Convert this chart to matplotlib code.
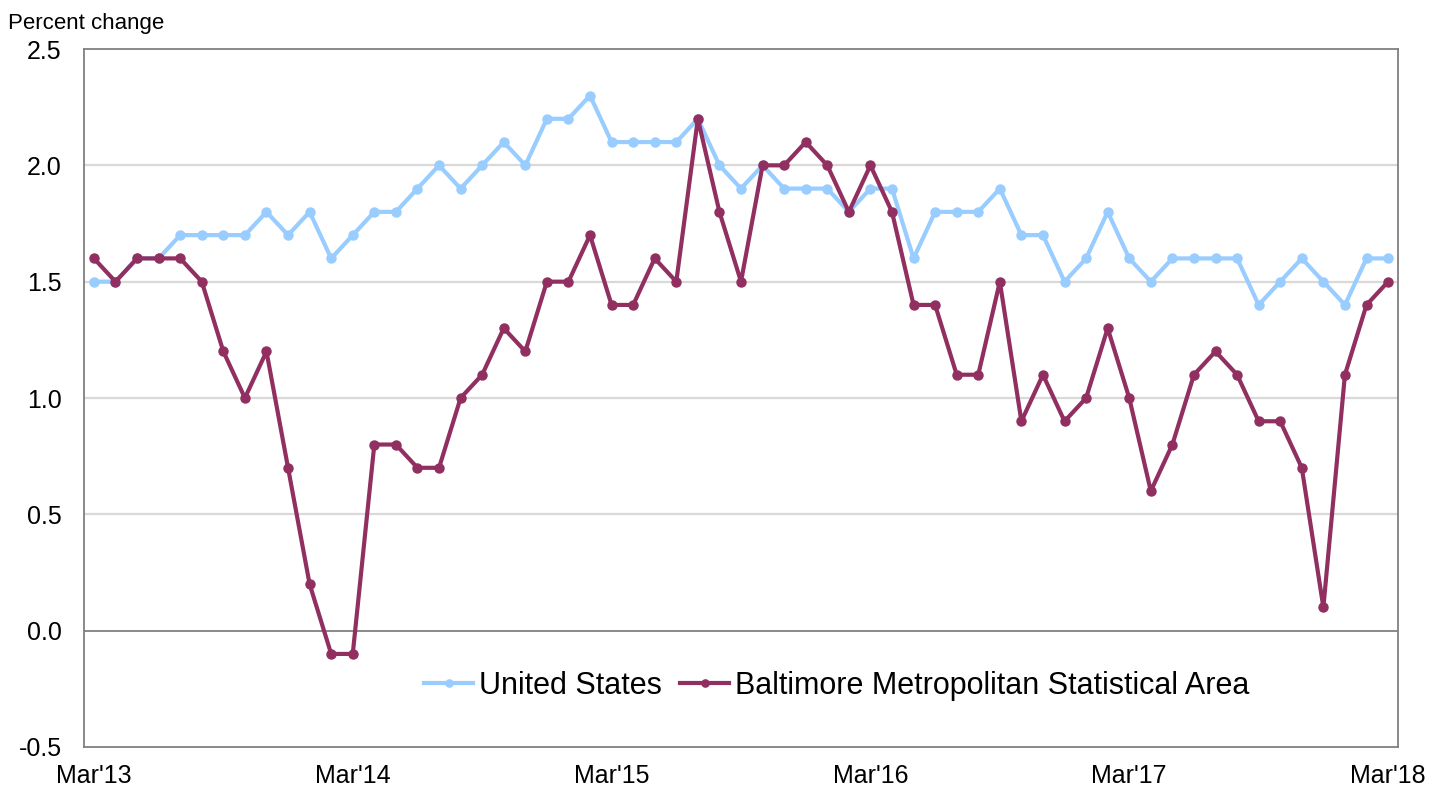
import matplotlib.pyplot as plt
import numpy as np

plt.rcParams['font.family'] = ['Liberation Sans', 'DejaVu Sans']

# monthly, Mar'13 .. Mar'18 (12-month percent change)
months = np.arange(61)
tick_labels = ["Mar'13", "Mar'14", "Mar'15", "Mar'16", "Mar'17", "Mar'18"]

us = [1.5, 1.5, 1.6, 1.6, 1.7, 1.7, 1.7, 1.7, 1.8, 1.7, 1.8, 1.6,
      1.7, 1.8, 1.8, 1.9, 2.0, 1.9, 2.0, 2.1, 2.0, 2.2, 2.2, 2.3,
      2.1, 2.1, 2.1, 2.1, 2.2, 2.0, 1.9, 2.0, 1.9, 1.9, 1.9, 1.8,
      1.9, 1.9, 1.6, 1.8, 1.8, 1.8, 1.9, 1.7, 1.7, 1.5, 1.6, 1.8,
      1.6, 1.5, 1.6, 1.6, 1.6, 1.6, 1.4, 1.5, 1.6, 1.5, 1.4, 1.6,
      1.6]

baltimore = [1.6, 1.5, 1.6, 1.6, 1.6, 1.5, 1.2, 1.0, 1.2, 0.7, 0.2, -0.1,
             -0.1, 0.8, 0.8, 0.7, 0.7, 1.0, 1.1, 1.3, 1.2, 1.5, 1.5, 1.7,
             1.4, 1.4, 1.6, 1.5, 2.2, 1.8, 1.5, 2.0, 2.0, 2.1, 2.0, 1.8,
             2.0, 1.8, 1.4, 1.4, 1.1, 1.1, 1.5, 0.9, 1.1, 0.9, 1.0, 1.3,
             1.0, 0.6, 0.8, 1.1, 1.2, 1.1, 0.9, 0.9, 0.7, 0.1, 1.1, 1.4,
             1.5]

fig = plt.figure(figsize=(14.32, 7.90), dpi=100)
ax = fig.add_axes([84 / 1432, 1 - 747 / 790, (1398 - 84) / 1432, (747 - 49) / 790])

# gridlines
for y in [0.5, 1.0, 1.5, 2.0]:
    ax.axhline(y, color='#d9d9d9', lw=1.6, zorder=0)
ax.axhline(0, color='#808080', lw=1.3, zorder=1)

ax.plot(months, us, color='#99ccff', lw=3, marker='o', ms=6.5,
        label='United States', zorder=2)
ax.plot(months, baltimore, color='#902f60', lw=3, marker='o', ms=6.5,
        label='Baltimore Metropolitan Statistical Area', zorder=3)

ax.set_xlim(-0.46, 60.46)
ax.set_ylim(-0.5, 2.5)
ax.set_yticks(np.arange(-0.5, 2.51, 0.5))
ax.set_yticklabels([f'{v:.1f}' for v in np.arange(-0.5, 2.51, 0.5)], fontsize=18)
ax.set_xticks(months[::12])
ax.set_xticklabels(tick_labels, fontsize=18)
ax.tick_params(axis='x', length=0, pad=12)
ax.tick_params(axis='y', length=0, pad=16)

for s in ax.spines.values():
    s.set_color('#808080')
    s.set_linewidth(1.3)

fig.text(8 / 1432, 1 - 24 / 790, 'Percent change', fontsize=16, va='center')

ax.legend(loc='center', bbox_to_anchor=(0.573, 0.088), ncol=2, frameon=False,
          fontsize=22, handlelength=1.6, handletextpad=0.2, columnspacing=0.6,
          markerscale=0.8)

fig.savefig('out.png', dpi=100)
